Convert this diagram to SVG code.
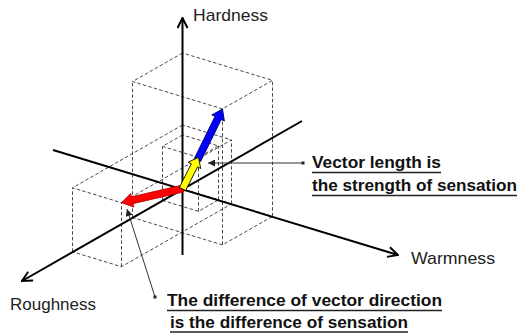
<svg xmlns="http://www.w3.org/2000/svg" width="519" height="334" viewBox="0 0 519 334">
<style>
.box{fill:none;stroke:#4a4a4a;stroke-width:1;stroke-dasharray:3.5,2.2}
.axis{fill:none;stroke:#000;stroke-width:2}
.lbl{font-family:"Liberation Sans",Arial,sans-serif;font-size:17px;fill:#222}
.note{font-family:"Liberation Sans",Arial,sans-serif;font-size:17px;font-weight:bold;fill:#111}
.ul{stroke:#222;stroke-width:1.5}
.ptr{stroke:#333;stroke-width:1;fill:none}
</style>
<defs>
<marker id="open" viewBox="0 0 12 12" refX="11" refY="6" markerWidth="12" markerHeight="12" markerUnits="userSpaceOnUse" orient="auto">
<path d="M1,1 L11,6 L1,11" fill="none" stroke="#000" stroke-width="2"/>
</marker>
<marker id="solid" viewBox="0 0 10 10" refX="10" refY="5" markerWidth="8" markerHeight="7" markerUnits="userSpaceOnUse" orient="auto">
<path d="M0,0 L10,5 L0,10 Z" fill="#222"/>
</marker>
</defs>
<g id="box-big" class="box">
<path d="M182.5,189 L132.5,217.55 L222.5,244.91 L272.5,216.36 Z"/>
<path d="M182.5,53 L132.5,81.55 L222.5,108.91 L272.5,80.36 Z"/>
<path d="M182.5,189 V53 M132.5,217.55 V81.55 M272.5,216.36 V80.36 M222.5,244.91 V108.91"/>
</g>
<g id="box-red" class="box">
<path d="M182.5,189 L72.5,251.81 L121.5,266.71 L231.5,203.9 Z"/>
<path d="M182.5,125 L72.5,187.81 L121.5,202.71 L231.5,139.9 Z"/>
<path d="M182.5,189 V125 M72.5,251.81 V187.81 M121.5,266.71 V202.71 M231.5,203.9 V139.9"/>
</g>
<g id="box-yellow" class="box">
<path d="M182.5,189 L162.5,200.42 L198.5,211.36 L218.5,199.94 Z"/>
<path d="M182.5,135 L162.5,146.42 L198.5,157.36 L218.5,145.94 Z"/>
<path d="M182.5,189 V135 M162.5,200.42 V146.42 M198.5,211.36 V157.36 M218.5,199.94 V145.94"/>
</g>
<g id="axes">
<line id="axis-hardness" class="axis" x1="182.5" y1="255" x2="182.5" y2="18" marker-end="url(#open)"/>
<line id="axis-warmness" class="axis" x1="53" y1="150" x2="398" y2="255" marker-end="url(#open)"/>
<line id="axis-roughness" class="axis" x1="302" y1="121" x2="22" y2="281" marker-end="url(#open)"/>
</g>
<g id="vector-red">
<path d="M182.21,185.09 L131.43,196.82 L130.65,193.41 L121.5,202.7 L133.8,207.05 L133.01,203.64 L183.79,191.91 Z" fill="#ff0000" stroke="#b00000" stroke-width="0.8" stroke-linejoin="round"/>
</g>
<g id="vector-blue">
<path d="M200.64,161.54 L221.24,119.52 L224.39,121.06 L222.5,109 L211.81,114.9 L214.96,116.44 L194.36,158.46 Z" fill="#0000ff" stroke="#000060" stroke-width="0.9" stroke-linejoin="round"/>
</g>
<g id="vector-yellow">
<path d="M185.63,190.58 L197.57,166.92 L200.69,168.5 L198.5,157.3 L188.19,162.18 L191.31,163.76 L179.37,187.42 Z" fill="#ffff00" stroke="#000" stroke-width="0.9" stroke-linejoin="round"/>
</g>
<g id="connectors">
<line class="ptr" x1="303" y1="163" x2="208" y2="163" marker-end="url(#solid)"/>
<rect x="301.5" y="161.5" width="3" height="3" fill="#222"/>
<line class="ptr" x1="155" y1="297" x2="127" y2="209" marker-end="url(#solid)"/>
<rect x="153.5" y="295.5" width="3" height="3" fill="#222"/>
</g>
<g id="label-hardness"><text class="lbl" x="193" y="21" textLength="75" lengthAdjust="spacingAndGlyphs">Hardness</text></g>
<g id="label-warmness"><text class="lbl" x="411" y="264" textLength="84" lengthAdjust="spacingAndGlyphs">Warmness</text></g>
<g id="label-roughness"><text class="lbl" x="10" y="310" textLength="86" lengthAdjust="spacingAndGlyphs">Roughness</text></g>
<g id="note-length">
<text class="note" x="312" y="168" textLength="129" lengthAdjust="spacingAndGlyphs">Vector length is</text>
<line class="ul" x1="312" y1="172.5" x2="441" y2="172.5"/>
<text class="note" x="312" y="191" textLength="205" lengthAdjust="spacingAndGlyphs">the strength of sensation</text>
<line class="ul" x1="312" y1="195.5" x2="517" y2="195.5"/>
</g>
<g id="note-direction">
<text class="note" x="167" y="306" textLength="275" lengthAdjust="spacingAndGlyphs">The difference of vector direction</text>
<line class="ul" x1="167" y1="310.5" x2="442" y2="310.5"/>
<text class="note" x="170" y="327.5" textLength="238" lengthAdjust="spacingAndGlyphs">is the difference of sensation</text>
<line class="ul" x1="170" y1="332" x2="408" y2="332"/>
</g>
</svg>
